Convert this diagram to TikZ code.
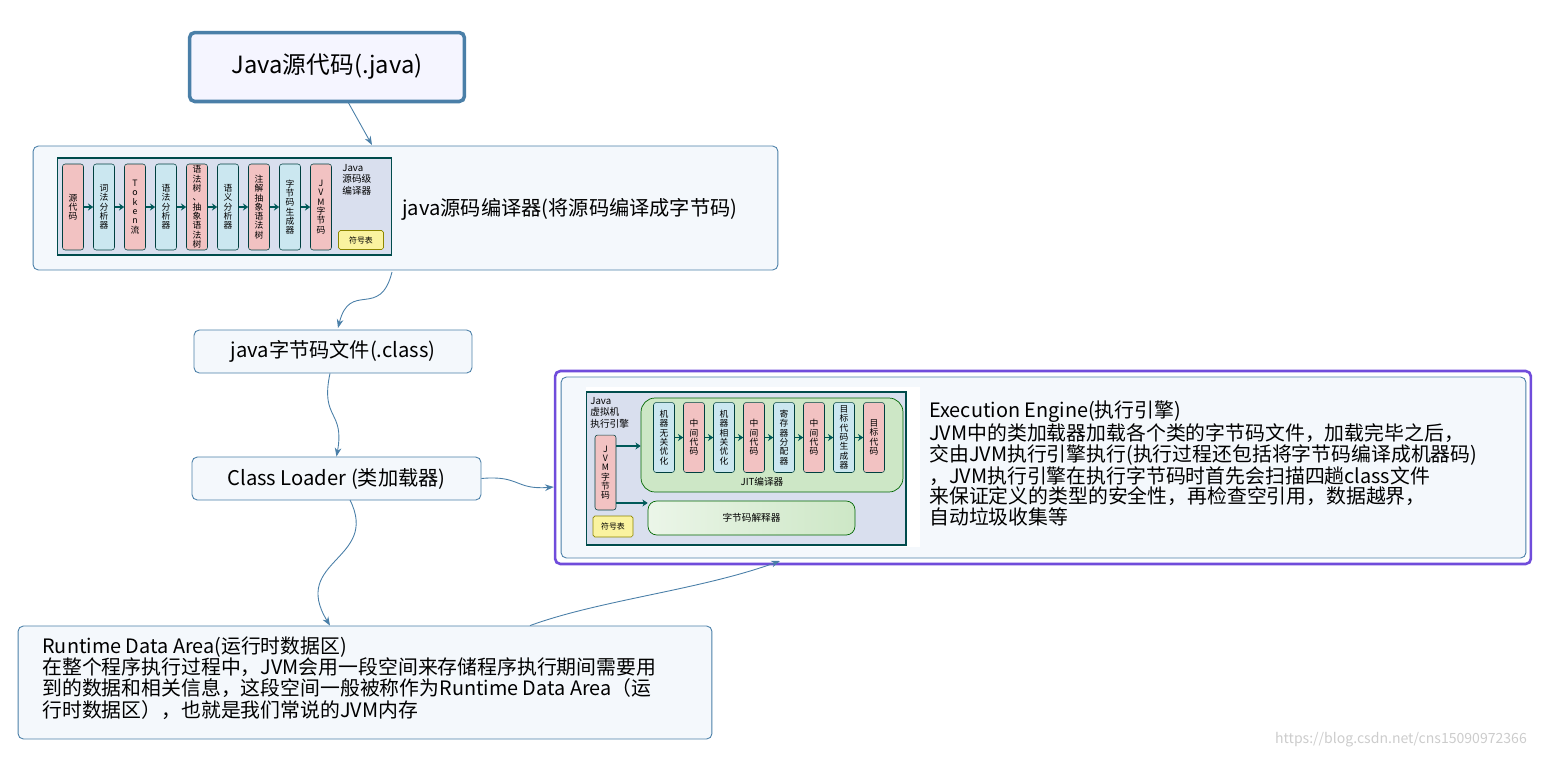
\documentclass[tikz,border=0pt]{standalone}
\usepackage{fontspec}
\setmainfont{Noto Sans CJK SC}
\usetikzlibrary{arrows.meta,positioning,calc}
\definecolor{edge}{HTML}{4A7FA8}
\definecolor{paper}{HTML}{F4F8FC}
\definecolor{lav}{HTML}{D9DFEE}
\definecolor{pinkc}{HTML}{F2C2C2}
\definecolor{bluec}{HTML}{CBE7F0}
\definecolor{greenc}{HTML}{CDE7C6}
\definecolor{yelc}{HTML}{FAF3A0}

\begin{document}
\begin{tikzpicture}[
    x=0.02cm, y=-0.02cm,
    card/.style={draw=edge, fill=paper, rounded corners=3pt, line width=0.5pt},
    txt/.style={font=\fontsize{11.5}{13.5}\selectfont, align=left, anchor=west, inner sep=0pt},
    frame/.style={draw=teal!60!black, fill=lav, line width=0.6pt},
    col/.style={draw=teal!50!black, rounded corners=1.5pt, line width=0.3pt, minimum width=0.42cm,
        font=\fontsize{5}{5.3}\selectfont, align=center, inner sep=0pt},
    tip/.style={-{Stealth[length=3pt,width=4pt]}, teal!70!black, line width=1pt},
    arrow/.style={-{Stealth[length=5pt]}, edge, line width=0.5pt}
]
    \useasboundingbox (0,0) rectangle (1543,758);

    % title
    \node[draw=edge, line width=2pt, fill=blue!4, rounded corners=3pt, minimum width=5.5cm, minimum height=1.38cm,
        font=\fontsize{13.5}{15}\selectfont] (title) at (327,67) {Java源代码(.java)};

    % source compiler
    \node[card, minimum width=14.9cm, minimum height=2.48cm] (compiler) at (405.5,208) {};
    \node[frame, minimum width=6.7cm, minimum height=1.94cm] (srcimg) at (224.5,206.5) {};
    \foreach \t [count=\i] in {{源\\代\\码}, {词\\法\\分\\析\\器}, {T\\o\\k\\e\\n\\流}, {语\\法\\分\\析\\器},
        {语\\法\\树\\、\\抽\\象\\语\\法\\树}, {语\\义\\分\\析\\器}, {注\\解\\抽\\象\\语\\法\\树}, {字\\节\\码\\生\\成\\器}, {J\\V\\M\\字\\节\\码}} {
        \pgfmathsetmacro\cx{73+31*(\i-1)}
        \ifodd\i \def\cc{pinkc}\else\def\cc{bluec}\fi
        \node[col, fill=\cc, minimum height=1.72cm] (s\i) at (\cx,207) {\t};
    }
    \foreach \i [evaluate=\i as \j using int(\i+1)] in {1,...,8}
        \draw[tip] (s\i.east) -- (s\j.west);
    \node[font=\fontsize{5.5}{6.5}\selectfont, align=left, anchor=north west, inner sep=0pt] (srclbl) at (342,164) {Java\\源码级\\编译器};
    \node[draw=olive, fill=yelc, rounded corners=1pt, minimum width=0.9cm, minimum height=0.38cm,
        font=\fontsize{4.5}{5}\selectfont] (symA) at (361,240) {符号表};
    \node[txt] (complbl) at (402,209) {java源码编译器(将源码编译成字节码)};

    % class file and loader
    \node[card, minimum width=5.56cm, minimum height=0.86cm, font=\fontsize{11.5}{13}\selectfont] (classfile) at (333,351.5) {java字节码文件(.class)};
    \node[card, minimum width=5.78cm, minimum height=0.86cm, font=\fontsize{11.5}{13}\selectfont] (loader) at (336.5,478.5) {Class Loader (类加载器)};

    % execution engine
    \node[draw=blue!60!violet!70, line width=1.5pt, fill=white, rounded corners=3pt, minimum width=19.52cm, minimum height=3.86cm] (engine) at (1043,467.5) {};
    \node[card, minimum width=19.3cm, minimum height=3.62cm] (engineIn) at (1043.5,467.5) {};
    \node[fill=white, minimum width=6.7cm, minimum height=3.2cm, inner sep=0pt] at (753,467) {};
    \node[frame, minimum width=6.4cm, minimum height=3.06cm] (exeimg) at (746,468.5) {};
    \node[draw=green!40!black, fill=greenc, rounded corners=8pt, minimum width=5.24cm, minimum height=1.88cm] (jit) at (772,445) {};
    \foreach \t [count=\i] in {{机\\器\\无\\关\\优\\化}, {中\\间\\代\\码}, {机\\器\\相\\关\\优\\化}, {中\\间\\代\\码},
        {寄\\存\\器\\分\\配\\器}, {中\\间\\代\\码}, {目\\标\\代\\码\\生\\成\\器}, {目\\标\\代\\码}} {
        \pgfmathsetmacro\cx{664+30*(\i-1)}
        \ifodd\i \def\cc{bluec}\else\def\cc{pinkc}\fi
        \node[col, fill=\cc, minimum height=1.4cm] (j\i) at (\cx,437.5) {\t};
    }
    \foreach \i [evaluate=\i as \j using int(\i+1)] in {1,...,7}
        \draw[tip] (j\i.east) -- (j\j.west);
    \node[font=\fontsize{5.5}{6}\selectfont] (jitlbl) at (762,482) {JIT编译器};
    \node[font=\fontsize{5.5}{6.5}\selectfont, align=left, anchor=north west, inner sep=0pt] (exelbl) at (590,397) {Java\\虚拟机\\执行引擎};
    \node[col, fill=pinkc, minimum height=1.5cm] (jvmcode) at (605.5,472.5) {J\\V\\M\\字\\节\\码};
    \node[draw=green!40!black, rounded corners=5pt, left color=greenc!40, right color=greenc, minimum width=4.14cm, minimum height=0.68cm,
        font=\fontsize{5.5}{6}\selectfont] (interp) at (751.5,518) {字节码解释器};
    \node[draw=olive, fill=yelc, rounded corners=1pt, minimum width=0.8cm, minimum height=0.42cm,
        font=\fontsize{4.5}{5}\selectfont] (symB) at (613,526.5) {符号表};
    \draw[tip] (jvmcode.east |- 0,446) -- (jit.west |- 0,446);
    \draw[tip] (jvmcode.east |- 0,503) -- (interp.west |- 0,503);
    \node[txt, anchor=north west, font=\fontsize{11.3}{11.6}\selectfont] (enginelbl) at (929,400) {Execution Engine(执行引擎)\\
        JVM中的类加载器加载各个类的字节码文件，加载完毕之后，\\
        交由JVM执行引擎执行(执行过程还包括将字节码编译成机器码)\\
        ，JVM执行引擎在执行字节码时首先会扫描四趟class文件\\
        来保证定义的类型的安全性，再检查空引用，数据越界，\\
        自动垃圾收集等};

    % runtime data area
    \node[card, minimum width=13.88cm, minimum height=2.26cm] (runtime) at (365,682.5) {};
    \node[txt, anchor=north west, font=\fontsize{11.3}{12.2}\selectfont] (runtimelbl) at (42,636) {Runtime Data Area(运行时数据区)\\
        在整个程序执行过程中，JVM会用一段空间来存储程序执行期间需要用\\
        到的数据和相关信息，这段空间一般被称作为Runtime Data Area（运\\
        行时数据区），也就是我们常说的JVM内存};

    \node[font=\fontsize{8}{9}\selectfont, text=gray!40, anchor=east] (mark) at (1533,740) {https://blog.csdn.net/cns15090972366};

    % connectors
    \draw[arrow] (348,102) -- (372,145);
    \draw[arrow] (392,272) .. controls (380,320) and (350,280) .. (338,328);
    \draw[arrow] (classfile.south) ++(-3,0) coordinate (c1) .. controls (320,420) and (345,410) .. (loader.north);
    \draw[arrow] (loader.east) .. controls (520,475) and (515,490) .. (engine.west |- 0,487);
    \draw[arrow] (350,500) .. controls (380,560) and (290,560) .. (runtime.north -| 330,0);
    \draw[arrow] (runtime.north -| 530,0) .. controls (600,600) and (700,590) .. (780,561);
\end{tikzpicture}
\end{document}
